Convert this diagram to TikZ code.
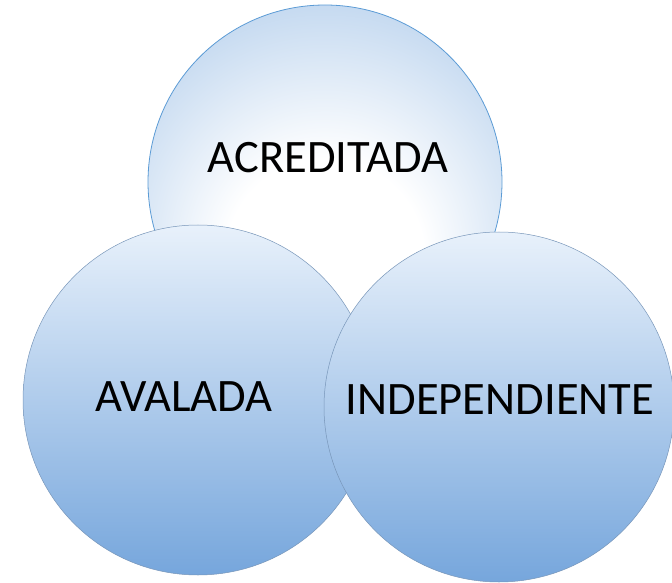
\documentclass[tikz,border=0pt]{standalone}
\usepackage{fontspec}
\setmainfont{Carlito}
\usepackage{tikz}
\usepackage{xcolor}

\definecolor{ringblue}{RGB}{91,155,213}
\definecolor{rimblue}{RGB}{148,186,228}
\definecolor{palecap}{RGB}{232,241,251}
\definecolor{midball}{RGB}{172,202,235}
\definecolor{deepball}{RGB}{118,166,220}
\definecolor{edgegray}{RGB}{120,150,185}

\pgfdeclareradialshading{acredball}{\pgfpoint{0bp}{-14bp}}{color(0bp)=(white); color(14bp)=(white); color(42bp)=(rimblue!85); color(60bp)=(rimblue)}

\begin{document}
\begin{tikzpicture}[x=1pt, y=1pt,
  ball/.style={circle, inner sep=0pt, minimum size=#1},
  word/.style={font=\fontsize{46.5}{50}\selectfont, inner sep=0pt}]
\useasboundingbox (0,0) rectangle (672,582);
% top ball
\node[ball=354pt, shading=acredball, draw=ringblue, line width=0.8pt] (acred) at (325,400) {};
% lower balls
\foreach \name/\cx/\cy in {aval/198/182, indep/499/175}
{\node[ball=350pt, top color=palecap, middle color=midball, bottom color=deepball,
  draw=edgegray, line width=0.5pt] (\name) at (\cx,\cy) {};}
\node[word] (acredtxt) at (328,424) {ACREDITADA};
\node[word] (avaltxt) at (184,185) {AVALADA};
\node[word] (indeptxt) at (500,182) {INDEPENDIENTE};
\end{tikzpicture}
\end{document}
